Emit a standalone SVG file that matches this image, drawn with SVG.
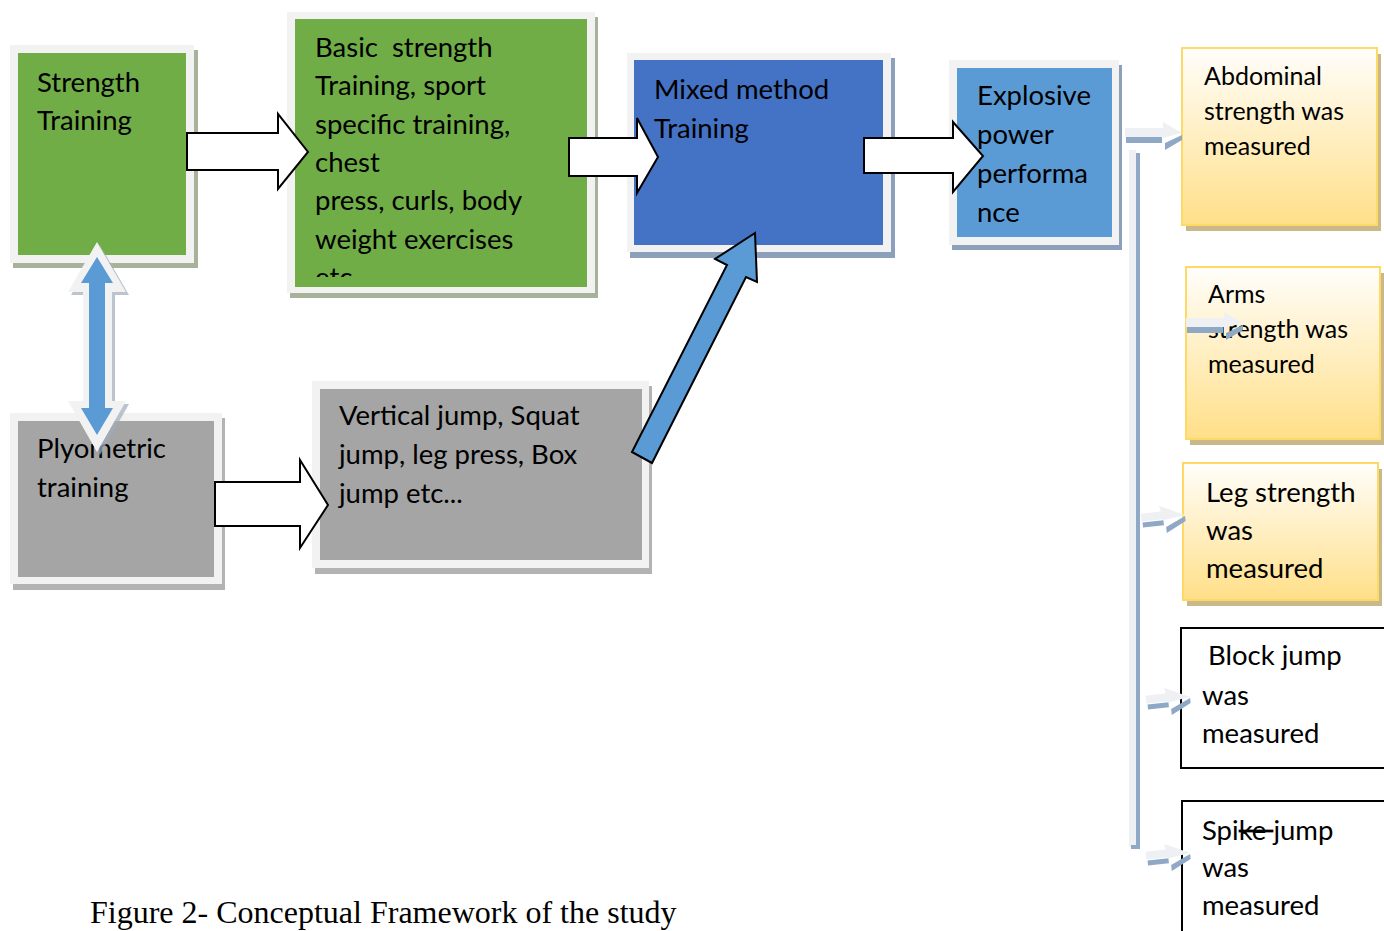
<svg xmlns="http://www.w3.org/2000/svg" width="1384" height="931" viewBox="0 0 1384 931">
<style>
.t{font-family:Lato,"Open Sans",sans-serif;font-size:27.5px;fill:#000}
.ts{font-family:Lato,"Open Sans",sans-serif;font-size:25px;fill:#000}
.frame{fill:#f2f2f2}
.shg{fill:#a6b39a}
.shb{fill:#8c9fbb}
.shy{fill:#c9b98a}
.shgr{fill:#b3b3b3}
.green{fill:#70ad47}
.blue{fill:#4472c4}
.lblue{fill:#5b9bd5}
.gray{fill:#a5a5a5}
.ybox{fill:url(#yg);stroke:#ffd966;stroke-width:2}
.wbox{fill:#fff;stroke:#000;stroke-width:2}
.barrow{fill:#fff;stroke:#000;stroke-width:2;stroke-linejoin:miter}
.lt{fill:#eef0f3}
.dk{fill:#8ea8c6}
.cap{font-family:"Liberation Serif",serif;font-size:32px;fill:#000}
</style>
<defs>
<linearGradient id="yg" x1="0" y1="0" x2="0" y2="1">
<stop offset="0" stop-color="#fffefb"/>
<stop offset="1" stop-color="#ffdf88"/>
</linearGradient>
<clipPath id="clipBasic"><rect x="295" y="19" width="292" height="258"/></clipPath>
<g id="longArrow">
<rect class="lt" x="-57" y="-5" width="38" height="9"/>
<rect class="dk" x="-56" y="4" width="36" height="6"/>
<polygon class="lt" points="-19,-11 0,0 -19,5"/>
<polygon class="dk" points="-17,10 0,2 0,7 -17,17"/>
</g>
<g id="shortArrow">
<rect class="lt" x="-44" y="-6" width="22" height="8"/>
<rect class="dk" x="-43" y="3" width="21" height="5"/>
<polygon class="lt" points="-25,-12 0,0 -22,3"/>
<polygon class="dk" points="-20,10 0,1 0,6 -20,16"/>
</g>
</defs>
<rect width="1384" height="931" fill="#fff"/>

<g id="strength">
<rect class="shg" x="13" y="50" width="185" height="218"/>
<rect class="frame" x="10" y="45" width="184" height="218"/>
<rect class="green" x="18" y="53" width="168" height="202"/>
<text class="t" x="37" y="92">Strength</text>
<text class="t" x="37" y="130">Training</text>
</g>

<g id="basic">
<rect class="shg" x="290" y="17" width="308" height="281"/>
<rect class="frame" x="287" y="12" width="308" height="281"/>
<rect class="green" x="295" y="19" width="292" height="268"/>
<g clip-path="url(#clipBasic)">
<text class="t" x="315" y="57" xml:space="preserve">Basic  strength</text>
<text class="t" x="315" y="95">Training, sport</text>
<text class="t" x="315" y="134">specific training,</text>
<text class="t" x="315" y="172">chest</text>
<text class="t" x="315" y="210">press, curls, body</text>
<text class="t" x="315" y="249">weight exercises</text>
<text class="t" x="315" y="287">etc</text>
</g>
</g>

<g id="mixed">
<rect class="shb" x="630" y="58" width="265" height="200"/>
<rect class="frame" x="627" y="53" width="264" height="199"/>
<rect class="blue" x="634" y="60" width="249" height="185"/>
<text class="t" x="654" y="99">Mixed method</text>
<text class="t" x="654" y="138">Training</text>
</g>

<g id="explosive">
<rect class="shb" x="952" y="65" width="170" height="185"/>
<rect class="frame" x="949" y="60" width="170" height="185"/>
<rect class="lblue" x="957" y="68" width="155" height="169"/>
<text class="t" x="977" y="105">Explosive</text>
<text class="t" x="977" y="144">power</text>
<text class="t" x="977" y="183">performa</text>
<text class="t" x="977" y="222">nce</text>
</g>

<g id="plyometric">
<rect class="shgr" x="13" y="418" width="212" height="172"/>
<rect class="frame" x="10" y="413" width="212" height="171"/>
<rect class="gray" x="18" y="421" width="196" height="156"/>
<text class="t" x="37" y="458">Plyometric</text>
<text class="t" x="37" y="497">training</text>
</g>

<g id="vertical">
<rect class="shgr" x="315" y="386" width="337" height="188"/>
<rect class="frame" x="312" y="381" width="337" height="187"/>
<rect class="gray" x="320" y="389" width="322" height="171"/>
<text class="t" x="339" y="425">Vertical jump, Squat</text>
<text class="t" x="339" y="464">jump, leg press, Box</text>
<text class="t" x="339" y="503">jump etc...</text>
</g>

<g id="abdominal">
<rect class="shy" x="1186" y="54" width="195" height="177"/>
<rect class="ybox" x="1182" y="48" width="195" height="177"/>
<text class="ts" x="1204" y="85">Abdominal</text>
<text class="ts" x="1204" y="120">strength was</text>
<text class="ts" x="1204" y="155">measured</text>
</g>

<g id="arms">
<rect class="shy" x="1190" y="273" width="195" height="172"/>
<rect class="ybox" x="1186" y="267" width="194" height="172"/>
<text class="ts" x="1208" y="303">Arms</text>
<text class="ts" x="1208" y="338">strength was</text>
<text class="ts" x="1208" y="373">measured</text>
</g>

<g id="leg">
<rect class="shy" x="1187" y="469" width="195" height="137"/>
<rect class="ybox" x="1183" y="463" width="195" height="137"/>
<text class="t" x="1206" y="502">Leg strength</text>
<text class="t" x="1206" y="540">was</text>
<text class="t" x="1206" y="578">measured</text>
</g>

<g id="block">
<rect class="wbox" x="1181" y="628" width="230" height="140"/>
<text class="t" x="1208" y="665">Block jump</text>
<text class="t" x="1202" y="705">was</text>
<text class="t" x="1202" y="743">measured</text>
</g>

<g id="spike">
<rect class="wbox" x="1182" y="801" width="230" height="160"/>
<text class="t" x="1202" y="840">Spi<tspan text-decoration="line-through">ke </tspan>jump</text>
<text class="t" x="1202" y="877">was</text>
<text class="t" x="1202" y="915">measured</text>
</g>

<g id="connectors">
<polygon class="barrow" points="187,133 278,133 278,114 308,152 278,189 278,170 187,170"/>
<polygon class="barrow" points="569,138 637,138 637,118 658,157 637,193 637,176 569,176"/>
<polygon class="barrow" points="864,138 953,138 953,122 983,156 953,192 953,173 864,173"/>
<polygon class="barrow" points="215,482 300,482 300,460 328,505 300,548 300,526 215,526"/>
<polygon points="632,452 727,265 715,259 755,233 757,282 746,277 652,463" fill="#5b9bd5" stroke="#000" stroke-width="2" stroke-linejoin="miter"/>
<g id="double-arrow">
<polygon points="100,245 129,295 115,295 115,404 129,404 100,455 71,404 86,404 86,295 71,295" fill="#9fabbb" opacity="0.7"/>
<polygon points="97,242 126,292 112,292 112,401 126,401 97,452 68,401 83,401 83,292 68,292" fill="#f2f2f2"/>
<polygon points="97,257 113,283 105,283 105,408 113,408 97,435 81,408 89,408 89,283 81,283" fill="#5b9bd5"/>
</g>
<rect x="1129" y="150" width="7" height="697" fill="#eef0f3"/>
<rect x="1136" y="153" width="4" height="694" fill="#8ea8c6"/>
<rect x="1131" y="845" width="9" height="4" fill="#8ea8c6"/>
<use href="#longArrow" x="1182" y="133"/>
<use href="#longArrow" x="1243" y="323"/>
<use href="#shortArrow" transform="translate(1185,515) rotate(-6)"/>
<use href="#shortArrow" transform="translate(1190,697) rotate(-6)"/>
<use href="#shortArrow" transform="translate(1190,853) rotate(-6)"/>
</g>

<text class="cap" x="90" y="923">Figure 2- Conceptual Framework of the study</text>
</svg>
